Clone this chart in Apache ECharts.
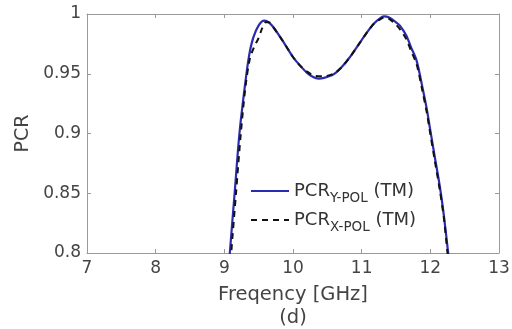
<!DOCTYPE html>
<html><head><meta charset="utf-8">
<script src="https://cdn.jsdelivr.net/npm/echarts@6/dist/echarts.min.js"></script>
<style>html,body{margin:0;padding:0;background:#fff}#c{width:512px;height:329px}</style>
</head><body><div id="c"></div>
<script>
// Frequency (GHz) / PCR samples
const yPolFreq = [9.05,9.08,9.15,9.22,9.30,9.36,9.42,9.50,9.58,9.62,9.70,9.81,9.90,10.00,10.10,10.20,10.30,10.37,10.45,10.59,10.70,10.83,10.95,11.07,11.18,11.28,11.33,11.40,11.50,11.56,11.65,11.72,11.80,11.88,11.95,11.99,12.06,12.14,12.20,12.26,12.29];
const yPolPCR  = [0.775,0.800,0.850,0.900,0.940,0.965,0.980,0.9905,0.9945,0.994,0.990,0.981,0.973,0.964,0.957,0.951,0.947,0.946,0.9465,0.9495,0.955,0.964,0.974,0.984,0.992,0.997,0.998,0.997,0.993,0.990,0.982,0.972,0.961,0.940,0.920,0.906,0.882,0.855,0.830,0.800,0.785];
const xPolFreq = [9.07,9.10,9.17,9.24,9.31,9.37,9.43,9.50,9.55,9.60,9.65,9.70,9.81,9.90,10.00,10.10,10.20,10.30,10.37,10.45,10.59,10.70,10.83,10.95,11.07,11.18,11.28,11.33,11.40,11.50,11.56,11.65,11.72,11.80,11.88,11.95,11.99,12.06,12.14,12.20,12.25,12.28];
const xPolPCR  = [0.775,0.800,0.850,0.900,0.940,0.962,0.972,0.980,0.988,0.993,0.993,0.990,0.981,0.973,0.964,0.957,0.952,0.9485,0.948,0.948,0.950,0.955,0.964,0.974,0.984,0.992,0.996,0.997,0.996,0.991,0.987,0.979,0.969,0.958,0.937,0.917,0.903,0.879,0.852,0.828,0.800,0.785];
const xTicks = [7,8,9,10,11,12,13];
const yTicks = [0.8,0.85,0.9,0.95,1];
const seriesNames = ['PCR_Y', 'PCR_X'];
const subLabels = {PCR_Y: 'Y-POL', PCR_X: 'X-POL'};

const font = 'DejaVu Sans, sans-serif';
const chart = echarts.init(document.getElementById('c'), null, {renderer: 'canvas'});
const frame = {show: true, lineStyle: {color: '#9a9a9a', width: 1}};
const tick = {show: true, inside: true, length: 4, lineStyle: {color: '#9a9a9a'}};
chart.setOption({
  animation: false,
  grid: {left: 87, right: 13, top: 14, bottom: 76, show: false, outerBoundsMode: 'none', containLabel: false},
  legend: {
    orient: 'vertical', left: 245, top: 177, itemGap: 6, itemWidth: 38, itemHeight: 14,
    itemStyle: {opacity: 0, borderWidth: 0},
    formatter: n => '{m|PCR}{s|' + subLabels[n] + '}{m| (TM)}',
    textStyle: {
      color: '#333', fontFamily: font, fontSize: 18,
      rich: {
        m: {fontSize: 18, fontFamily: font, color: '#333'},
        s: {fontSize: 13.5, fontFamily: font, color: '#333', padding: [14, 0, 0, 0]}
      }
    },
    data: seriesNames
  },
  xAxis: [{
    type: 'value', min: xTicks[0], max: xTicks[xTicks.length-1], interval: 1,
    axisLine: frame, axisTick: tick, splitLine: {show: false},
    axisLabel: {color: '#444', fontFamily: font, fontSize: 17, margin: 7},
    name: 'Freqency [GHz]\n(d)', nameLocation: 'middle', nameGap: 30,
    nameTextStyle: {color: '#444', fontFamily: font, fontSize: 19.5, lineHeight: 23}
  }, {
    type: 'value', position: 'top', min: 7, max: 13, interval: 1,
    axisLine: frame, axisTick: tick, axisLabel: {show: false}, splitLine: {show: false}
  }],
  yAxis: [{
    type: 'value', min: yTicks[0], max: yTicks[yTicks.length-1], interval: 0.05,
    axisLine: frame, axisTick: tick, splitLine: {show: false},
    axisLabel: {color: '#444', fontFamily: font, fontSize: 17, margin: 6, formatter: v => String(+v.toFixed(2))},
    name: 'PCR', nameLocation: 'middle', nameGap: 49,
    nameTextStyle: {color: '#444', fontFamily: font, fontSize: 19}
  }, {
    type: 'value', position: 'right', min: 0.8, max: 1, interval: 0.05,
    axisLine: frame, axisTick: tick, axisLabel: {show: false}, splitLine: {show: false}
  }],
  series: [{
    name: seriesNames[0], type: 'line', symbol: 'none', smooth: 0.3, clip: true,
    data: yPolFreq.map((f, i) => [f, yPolPCR[i]]),
    lineStyle: {color: '#2b2bb0', width: 2.2}, itemStyle: {color: '#2b2bb0'}, z: 2
  }, {
    name: seriesNames[1], type: 'line', symbol: 'none', smooth: 0.3, clip: true,
    data: xPolFreq.map((f, i) => [f, xPolPCR[i]]),
    lineStyle: {color: '#111', width: 2, type: [6, 5]}, itemStyle: {color: '#111'}, z: 3
  }]
});
</script></body></html>
